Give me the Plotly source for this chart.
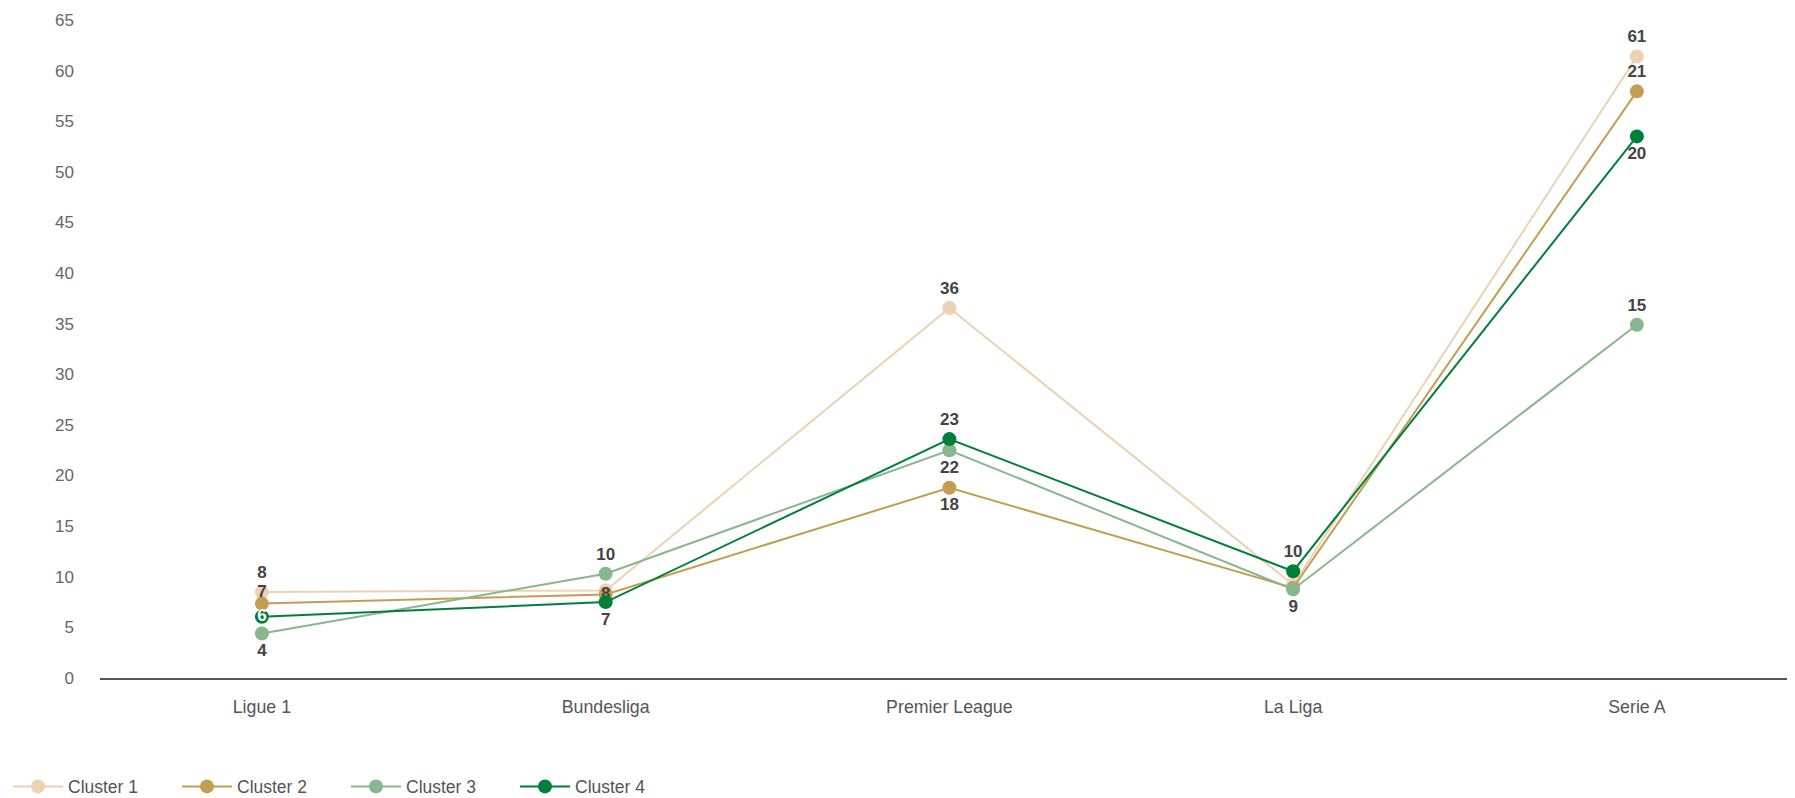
import plotly.graph_objects as go

leagues = ["Ligue 1", "Bundesliga", "Premier League", "La Liga", "Serie A"]
series_names = ["Cluster 1", "Cluster 2", "Cluster 3", "Cluster 4"]

cluster1 = [8.5, 8.65, 36.55, 9.2, 61.4]
cluster2 = [7.35, 8.25, 18.8, 8.9, 57.95]
cluster3 = [4.4, 10.3, 22.5, 8.75, 34.9]
cluster4 = [6.05, 7.5, 23.6, 10.55, 53.5]

labels1 = ["8", "", "36", "", "61"]
labels2 = ["7<br>\u00a0", "8", "18", "", "21"]
labels3 = ["4", "10", "22", "9", "15"]
labels4 = ["6", "7", "23", "10", "20"]

pos1 = ["top center", "top center", "top center", "top center", "top center"]
pos2 = ["middle center", "middle center", "bottom center", "top center", "top center"]
pos3 = ["bottom center", "top center", "bottom center", "bottom center", "top center"]
pos4 = ["middle center", "bottom center", "top center", "top center", "bottom center"]

colors = ["#EBD2B3", "#C49E50", "#88B68D", "#007F3A"]
label_dark = "#444444"
label_colors4 = ["#FFFFFF", label_dark, label_dark, label_dark, label_dark]

y_ticks = list(range(0, 66, 5))

fig = go.Figure()
data = [
    (cluster1, labels1, pos1, label_dark),
    (cluster2, labels2, pos2, label_dark),
    (cluster3, labels3, pos3, label_dark),
    (cluster4, labels4, pos4, label_colors4),
]
for name, color, (vals, labs, pos, tcol) in zip(series_names, colors, data):
    fig.add_trace(go.Scatter(
        x=leagues, y=vals, name=name, mode="lines+markers+text",
        line=dict(color=color, width=2),
        marker=dict(color=color, size=14),
        text=labs, textposition=pos,
        textfont=dict(family="Liberation Sans", size=17, color=tcol, weight="bold"),
        cliponaxis=False,
    ))

# page body has an 8px margin, so the figure is sized to the visible area
fig.update_layout(
    width=1787, height=790,
    paper_bgcolor="white", plot_bgcolor="white",
    margin=dict(l=92, r=0, t=11.5, b=120.3),
    font=dict(family="Liberation Sans", color="#555555", size=16),
    showlegend=True,
    legend=dict(orientation="h", xref="container", yref="container",
                x=0.0, y=0.0145, xanchor="left", yanchor="middle",
                font=dict(size=17.5, color="#555555"), entrywidth=104,
                itemwidth=50),
    xaxis=dict(type="category", range=[-0.471, 4.46], showgrid=False,
               showline=True, linecolor="#555555", linewidth=2,
               tickfont=dict(size=17.8, color="#555555"), ticks="",
               ticklabelstandoff=12, zeroline=False),
    yaxis=dict(range=[0, 65], tickvals=y_ticks, showgrid=False, zeroline=False,
               showline=False, tickfont=dict(size=17, color="#666666"),
               ticklabelstandoff=25),
)

fig.write_html("out.html")
